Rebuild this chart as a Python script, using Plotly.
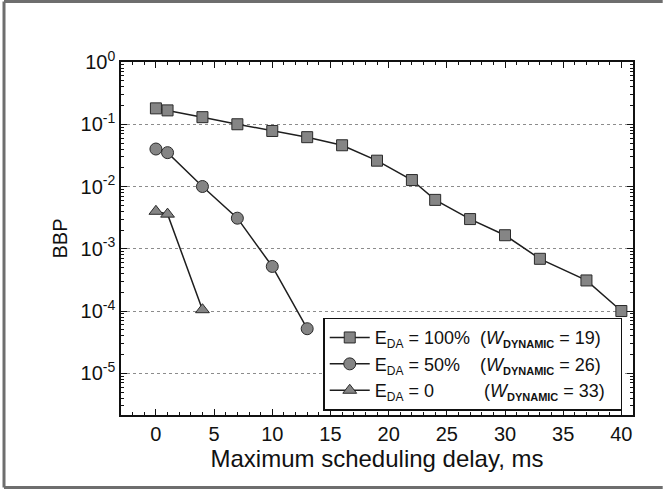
import plotly.graph_objects as go

# ---- data ----
delay_100 = [0, 1, 4, 7, 10, 13, 16, 19, 22, 24, 27, 30, 33, 37, 40]
bbp_100 = [0.18, 0.167, 0.13, 0.10, 0.078, 0.062, 0.046, 0.026, 0.0127,
           0.0061, 0.0030, 0.00165, 0.00069, 0.00031, 0.0001]
delay_50 = [0, 1, 4, 7, 10, 13]
bbp_50 = [0.040, 0.035, 0.010, 0.0031, 0.00052, 0.000052]
delay_0 = [0, 1, 4]
bbp_0 = [0.0040, 0.0036, 0.000105]

NB = "\u00a0"
SUB_DA = "<sub><span style='font-size:12px'>DA</span></sub>"
SUB_DYN = "<sub><b><span style='font-size:11px'>DYNAMIC</span></b></sub>"
names = [
    f"E{SUB_DA} = 100%{NB*2}(<i>W</i>{SUB_DYN} = 19){NB*2}",
    f"E{SUB_DA} = 50%{NB*4}(<i>W</i>{SUB_DYN} = 26){NB*2}",
    f"E{SUB_DA} = 0{NB*10}(<i>W</i>{SUB_DYN} = 33){NB*2}",
]
symbols = ["square", "circle", "triangle-up"]
sizes = [11, 12, 12]

x_ticks = [0, 5, 10, 15, 20, 25, 30, 35, 40]
y_exps = [-5, -4, -3, -2, -1, 0]
y_ticks = [10.0 ** e for e in y_exps]
y_ticktext = [f"10<sup>{e}</sup>" for e in y_exps]
y_minor = [m * 10.0 ** e for e in range(-6, 0) for m in range(2, 10)]

FONT = "Liberation Sans, Arial, Helvetica, sans-serif"
INK = "#111111"
MARKER_FILL = "#858585"
MARKER_EDGE = "#2a2a2a"
FRAME = "#6e6e6e"

fig = go.Figure()
for xs, ys, name, sym, sz in zip([delay_100, delay_50, delay_0],
                                 [bbp_100, bbp_50, bbp_0],
                                 names, symbols, sizes):
    fig.add_trace(go.Scatter(
        x=xs, y=ys, name=name, mode="lines+markers",
        line=dict(color="#1e1e1e", width=1.5),
        marker=dict(symbol=sym, size=sz, color=MARKER_FILL,
                    line=dict(color=MARKER_EDGE, width=1)),
    ))

fig.update_layout(
    width=663, height=489,
    margin=dict(l=121, r=30, t=62, b=74),
    paper_bgcolor="white", plot_bgcolor="white",
    font=dict(family=FONT, size=19, color=INK),
    showlegend=True,
    legend=dict(
        x=0.395, y=0.012, xanchor="left", yanchor="bottom",
        bgcolor="white", bordercolor=INK, borderwidth=1.5,
        font=dict(family=FONT, size=18, color=INK),
        itemwidth=40, tracegroupgap=0,
    ),
    xaxis=dict(
        range=[-3, 41], tickmode="array", tickvals=x_ticks,
        ticks="inside", ticklen=6, tickwidth=1.2, tickcolor=INK,
        minor=dict(dtick=1, ticks="inside", ticklen=3, tickcolor=INK, showgrid=False),
        showline=True, linecolor=INK, linewidth=1.5, mirror="allticks",
        showgrid=False, zeroline=False,
        title=dict(text="Maximum scheduling delay, ms", font=dict(size=24), standoff=4),
        tickfont=dict(size=20),
    ),
    yaxis=dict(
        type="log", range=[-5.67, 0.0],
        tickmode="array", tickvals=y_ticks, ticktext=y_ticktext,
        ticks="inside", ticklen=6, tickwidth=1.2, tickcolor=INK,
        minor=dict(tickmode="array", tickvals=y_minor, ticks="inside", ticklen=3,
                   tickcolor=INK, showgrid=False),
        showline=True, linecolor=INK, linewidth=1.5, mirror="allticks",
        showgrid=True, gridcolor="#8c8c8c", griddash="dot", gridwidth=1,
        zeroline=False,
        title=dict(text="BBP", font=dict(size=20), standoff=8),
        tickfont=dict(size=20),
    ),
    shapes=[
        dict(type="line", xref="paper", yref="paper",
             x0=-0.2285, x1=-0.2285, y0=-0.2054, y1=1.1714,
             line=dict(color=FRAME, width=3)),
        dict(type="line", xref="paper", yref="paper",
             x0=-0.2285, x1=1.058, y0=1.1714, y1=1.1714,
             line=dict(color=FRAME, width=3)),
        dict(type="line", xref="paper", yref="paper",
             x0=-0.2285, x1=1.058, y0=-0.2054, y1=-0.2054,
             line=dict(color=FRAME, width=3)),
    ],
)

fig.write_html(
    "out.html",
    config={"displayModeBar": False},
    post_script="document.body.style.margin='0';document.body.style.overflow='hidden';",
)
